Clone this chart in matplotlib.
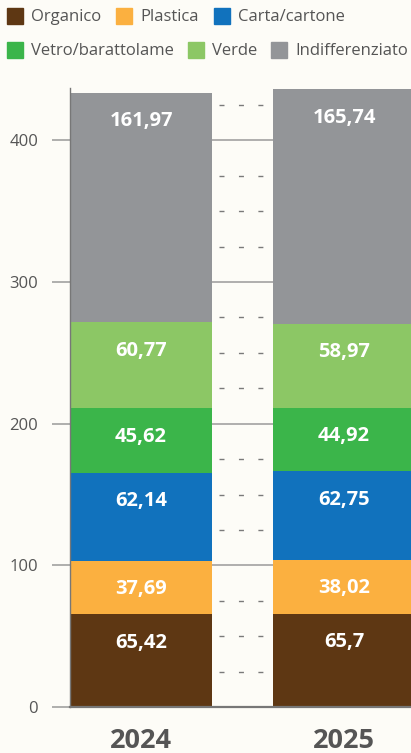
import numpy as np
import matplotlib.pyplot as plt
from matplotlib.patches import Rectangle

plt.rcParams['font.family'] = ['Open Sans', 'DejaVu Sans']

# data
years = ['2024', '2025']
categories = ['Organico', 'Plastica', 'Carta/cartone', 'Vetro/barattolame', 'Verde', 'Indifferenziato']
organico = [65.42, 65.70]
plastica = [37.69, 38.02]
carta = [62.14, 62.75]
vetro = [45.62, 44.92]
verde = [60.77, 58.97]
indiff = [161.97, 165.74]
labels_2024 = ['65,42', '37,69', '62,14', '45,62', '60,77', '161,97']
labels_2025 = ['65,7', '38,02', '62,75', '44,92', '58,97', '165,74']
yticks = [0, 100, 200, 300, 400]

colors = ['#5e3713', '#fbb040', '#1172bd', '#3bb54a', '#8cc765', '#939598']
bg = '#fdfcf7'
series = [organico, plastica, carta, vetro, verde, indiff]
labels = [labels_2024, labels_2025]

fig = plt.figure(figsize=(4.11, 7.53), dpi=100, facecolor=bg)
ax = fig.add_axes([70/411, 46/753, 1 - 70/411, 619/753])
ax.set_facecolor(bg)

x = np.arange(len(years))
w = 0.7
bottom = np.zeros(len(years))
for vals, col in zip(series, colors):
    ax.bar(x, vals, w, bottom=bottom, color=col, zorder=3)
    bottom = bottom + np.array(vals)

# value labels near top of each segment
bottom = np.zeros(len(years))
for k, vals in enumerate(series):
    top = bottom + np.array(vals)
    for i in range(len(years)):
        ax.text(x[i], top[i] - 20, labels[i][k], ha='center', va='center',
                color='white', fontsize=14.5, fontweight='bold', zorder=4)
    bottom = top

# dashed minor lines in the gap
minor = [v for v in np.arange(25, 450, 25) if v % 100 != 0]
ax.hlines(minor, w / 2 + 0.035, 1 - w / 2, colors='#7a7a7a', linewidth=1.0,
          linestyles=(0, (3.6, 10.4)), zorder=2)

ax.set_xlim(-w / 2, -w / 2 + 341 / 203)
ax.set_ylim(0, 437)
ax.set_yticks(yticks)
ax.set_yticklabels([str(v) for v in yticks], fontsize=12, color='#555555')
ax.tick_params(axis='y', length=13, width=1.1, color='#999999', pad=10)
ax.grid(axis='y', color='#9a9a9a', linewidth=1.1, zorder=1)
ax.set_xticks(x)
ax.set_xticklabels(years, fontsize=19.5, fontweight='bold', color='#555555')
ax.tick_params(axis='x', length=0, pad=15)

for s in ['top', 'right']:
    ax.spines[s].set_visible(False)
ax.spines['left'].set_color('#777777')
ax.spines['left'].set_linewidth(1.0)
ax.spines['left'].set_zorder(5)
ax.spines['bottom'].set_color('#777777')
ax.spines['bottom'].set_linewidth(1.6)
ax.spines['bottom'].set_zorder(5)

# legend drawn by hand in two rows
W, H = 411, 753
rows = [(16, [7, 116, 214], categories[:3], colors[:3]),
        (50, [7, 188, 271], categories[3:], colors[3:])]
for ypx, xs, names, cols in rows:
    for xp, name, col in zip(xs, names, cols):
        fig.patches.append(Rectangle((xp / W, 1 - (ypx + 8) / H), 16 / W, 16 / H,
                                     transform=fig.transFigure, color=col))
        fig.text((xp + 24) / W, 1 - (ypx + 1) / H, name, ha='left', va='center',
                 fontsize=12, color='#555555')

fig.savefig('out.png', dpi=100, facecolor=bg)
